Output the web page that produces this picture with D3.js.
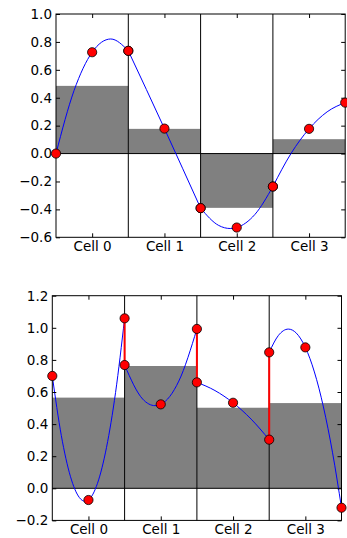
<!DOCTYPE html>
<html>
<head>
<meta charset="utf-8">
<script src="https://cdn.jsdelivr.net/npm/d3@7"></script>
<style>
  body { margin: 0; background: #fff; }
  text { font-family: "DejaVu Sans", sans-serif; }
</style>
</head>
<body>
<svg id="chart" width="347" height="538"></svg>
<script>
var cells = ["Cell 0", "Cell 1", "Cell 2", "Cell 3"];
var cellCenters = [0.5, 1.5, 2.5, 3.5];

// top panel
var topTicks = [-0.6, -0.4, -0.2, 0.0, 0.2, 0.4, 0.6, 0.8, 1.0];
var topBars = [0.485, 0.177, -0.389, 0.103];
var topLeft = [0.0, 0.736, -0.391, -0.236];
var topMid = [0.726, 0.179, -0.53, 0.177];
var topRight = [0.736, -0.391, -0.236, 0.365];
var topCurve = [
  [[0, 0], [0.25, 0.452], [0.5, 0.726], [0.757, 0.821], [1, 0.736]],
  [[1, 0.736], [1.25, 0.459], [1.5, 0.179], [1.75, -0.105], [2, -0.391]],
  [[2, -0.391], [2.25, -0.515], [2.41, -0.537], [2.5, -0.53], [2.75, -0.437], [3, -0.236]],
  [[3, -0.236], [3.25, 0.0], [3.5, 0.177], [3.75, 0.299], [4, 0.365]]
];

// bottom panel
var botTicks = [-0.2, 0.0, 0.2, 0.4, 0.6, 0.8, 1.0, 1.2];
var botBars = [0.565, 0.762, 0.502, 0.531];
var botLeft = [0.70, 0.768, 0.66, 0.847];
var botMid = [-0.073, 0.523, 0.533, 0.878];
var botRight = [1.059, 0.993, 0.303, -0.121];
var botCurve = [
  [[0, 0.70], [0.125, 0.328], [0.25, 0.075], [0.375, -0.058], [0.453, -0.081], [0.5, -0.073],
   [0.625, 0.031], [0.75, 0.255], [0.875, 0.597], [1, 1.059]],
  [[1, 0.768], [1.25, 0.556], [1.42, 0.515], [1.5, 0.523], [1.75, 0.668], [2, 0.993]],
  [[2, 0.66], [2.25, 0.609], [2.5, 0.533], [2.75, 0.431], [3, 0.303]],
  [[3, 0.847], [3.125, 0.951], [3.265, 0.992], [3.375, 0.967], [3.5, 0.878], [3.625, 0.725],
   [3.75, 0.507], [3.875, 0.225], [4, -0.121]]
];

var svg = d3.select("#chart");
var fmt = function(d) { return d3.format(".1f")(d).replace("-", "\u2212"); };

function drawPanel(opt) {
  var x = d3.scaleLinear().domain([0, 4]).range([opt.left, opt.right]);
  var y = d3.scaleLinear().domain(opt.yDomain).range([opt.bottom, opt.top]);
  var g = svg.append("g");

  // cell average bars
  g.selectAll("rect.bar").data(opt.bars).enter().append("rect")
    .attr("x", function(d, i) { return x(i); })
    .attr("width", function(d, i) { return x(i + 1) - x(i); })
    .attr("y", function(d) { return y(Math.max(0, d)); })
    .attr("height", function(d) { return Math.abs(y(d) - y(0)); })
    .attr("fill", "#808080");

  // zero line
  g.append("line")
    .attr("x1", x(0)).attr("x2", x(4))
    .attr("y1", y(0)).attr("y2", y(0))
    .attr("stroke", "#000").attr("stroke-width", 1);

  // cell boundaries
  g.selectAll("line.cellb").data([1, 2, 3]).enter().append("line")
    .attr("x1", function(d) { return x(d); }).attr("x2", function(d) { return x(d); })
    .attr("y1", opt.top).attr("y2", opt.bottom)
    .attr("stroke", "#000").attr("stroke-width", 1);

  // reconstruction curve
  var line = d3.line()
    .x(function(d) { return x(d[0]); })
    .y(function(d) { return y(d[1]); })
    .curve(d3.curveMonotoneX);
  g.selectAll("path.curve").data(opt.curve).enter().append("path")
    .attr("d", line)
    .attr("fill", "none")
    .attr("stroke", "#0000ff")
    .attr("stroke-width", 1);

  // jumps at interfaces
  if (opt.jumps) {
    g.selectAll("line.jump").data([1, 2, 3]).enter().append("line")
      .attr("x1", function(d) { return x(d); }).attr("x2", function(d) { return x(d); })
      .attr("y1", function(d) { return y(opt.rightVals[d - 1]); })
      .attr("y2", function(d) { return y(opt.leftVals[d]); })
      .attr("stroke", "#ff0000").attr("stroke-width", 2);
  }

  // axes (inward ticks on all sides)
  var yl = g.append("g").attr("transform", "translate(" + opt.left + ",0)")
    .call(d3.axisLeft(y).tickValues(opt.ticks).tickSize(-4).tickPadding(4).tickFormat(fmt));
  var yr = g.append("g").attr("transform", "translate(" + opt.right + ",0)")
    .call(d3.axisRight(y).tickValues(opt.ticks).tickSize(-4).tickFormat(""));
  var xb = g.append("g").attr("transform", "translate(0," + opt.bottom + ")")
    .call(d3.axisBottom(x).tickValues(cellCenters).tickSize(-4).tickPadding(4)
      .tickFormat(function(d, i) { return cells[i]; }));
  var xt = g.append("g").attr("transform", "translate(0," + opt.top + ")")
    .call(d3.axisTop(x).tickValues(cellCenters).tickSize(-4).tickFormat(""));
  [yl, yr, xb, xt].forEach(function(a) {
    a.select(".domain").remove();
    a.selectAll("line").attr("stroke", "#000");
    a.selectAll("text").attr("fill", "#000").style("font-size", "13.5px");
  });

  // frame
  g.append("rect")
    .attr("x", opt.left).attr("y", opt.top)
    .attr("width", opt.right - opt.left).attr("height", opt.bottom - opt.top)
    .attr("fill", "none").attr("stroke", "#000").attr("stroke-width", 1);

  // sample points
  var pts = [];
  for (var i = 0; i < 4; i++) {
    pts.push([i, opt.leftVals[i]]);
    pts.push([i + 0.5, opt.midVals[i]]);
    pts.push([i + 1, opt.rightVals[i]]);
  }
  g.selectAll("circle.pt").data(pts).enter().append("circle")
    .attr("cx", function(d) { return x(d[0]); })
    .attr("cy", function(d) { return y(d[1]); })
    .attr("r", 4.6)
    .attr("fill", "#ff0000")
    .attr("stroke", "#000")
    .attr("stroke-width", 0.8);
}

drawPanel({
  left: 56, right: 345.2, top: 14, bottom: 237.3,
  yDomain: [-0.6, 1.0], ticks: topTicks,
  bars: topBars, curve: topCurve,
  leftVals: topLeft, midVals: topMid, rightVals: topRight,
  jumps: false
});

drawPanel({
  left: 52.3, right: 341.5, top: 295.7, bottom: 520.4,
  yDomain: [-0.2, 1.2], ticks: botTicks,
  bars: botBars, curve: botCurve,
  leftVals: botLeft, midVals: botMid, rightVals: botRight,
  jumps: true
});
</script>
</body>
</html>
